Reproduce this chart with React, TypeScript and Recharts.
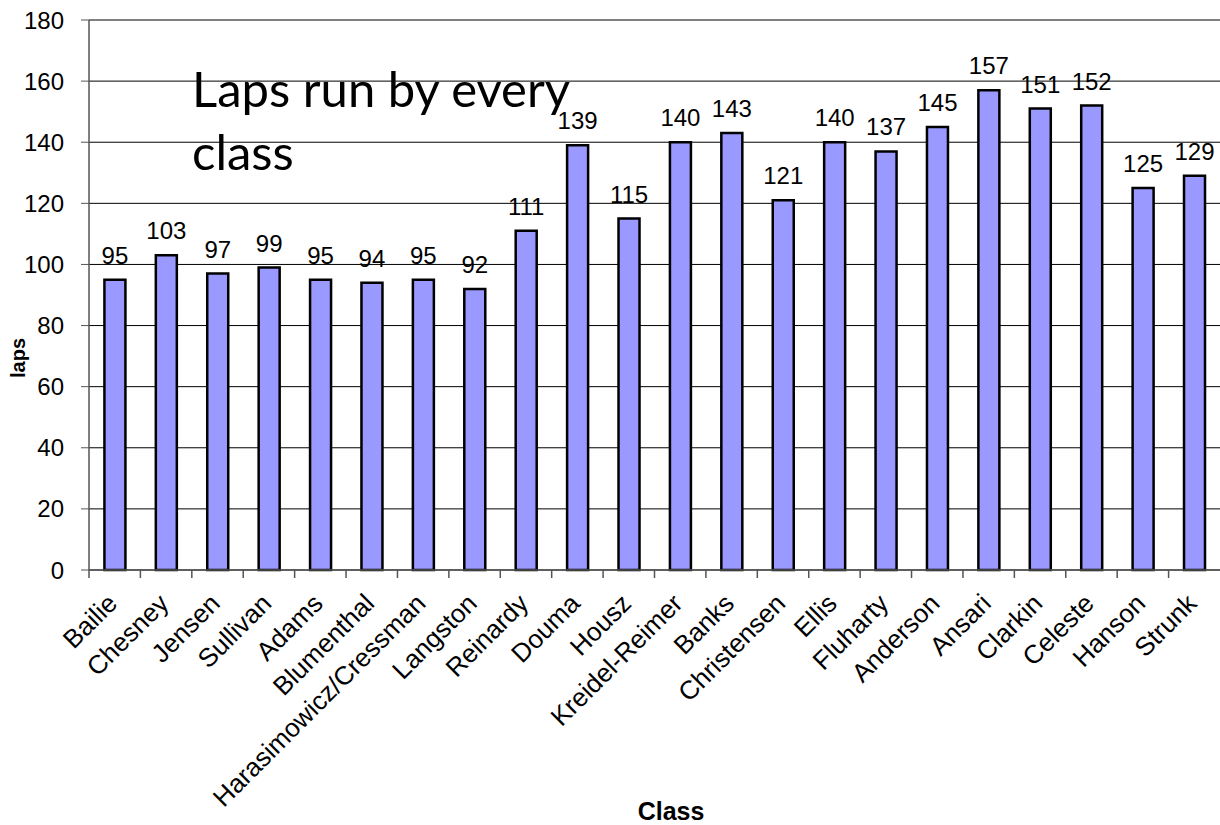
import { BarChart, Bar, XAxis, YAxis, CartesianGrid, LabelList, Label } from 'recharts';

const classes = [
  'Bailie', 'Chesney', 'Jensen', 'Sullivan', 'Adams', 'Blumenthal',
  'Harasimowicz/Cressman', 'Langston', 'Reinardy', 'Douma', 'Housz',
  'Kreidel-Reimer', 'Banks', 'Christensen', 'Ellis', 'Fluharty', 'Anderson',
  'Ansari', 'Clarkin', 'Celeste', 'Hanson', 'Strunk',
];
const laps = [95, 103, 97, 99, 95, 94, 95, 92, 111, 139, 115, 140, 143, 121, 140, 137, 145, 157, 151, 152, 125, 129];
const yTicks = [0, 20, 40, 60, 80, 100, 120, 140, 160, 180];

const data = classes.map((c, i) => ({ name: c, laps: laps[i] }));

const font = 'Arial, "Liberation Sans", sans-serif';

function ClassTick(props: any) {
  const { x, y, payload } = props;
  const half = payload?.offset ?? 25.7;
  const ax = x + 4;
  const ay = y + 27;
  return (
    <g>
      <line x1={x - half} x2={x - half} y1={y - 8} y2={y} stroke="#555" strokeWidth={1.5} />
      <text
        x={ax}
        y={ay}
        textAnchor="end"
        transform={`rotate(-45 ${ax} ${ay})`}
        fontSize={26}
        fontFamily={font}
        fill="#000"
      >
        {payload.value}
      </text>
    </g>
  );
}

export default function App() {
  return (
    <div style={{ position: 'fixed', left: 0, top: 0, width: 1220, height: 825, background: '#fff' }}>
      <BarChart
        width={1220}
        height={825}
        data={data}
        margin={{ top: 20, right: 0, left: 0, bottom: 0 }}
        barCategoryGap="30%"
      >
        <CartesianGrid vertical={false} stroke="#000" strokeWidth={1} />
        <XAxis
          dataKey="name"
          interval={0}
          height={255}
          tickLine={false}
          axisLine={{ stroke: '#555', strokeWidth: 1.5 }}
          tick={<ClassTick />}
        >
          <Label
            content={() => (
              <text x={671} y={820} textAnchor="middle" fontFamily={font} fontWeight="bold" fontSize={25} fill="#000">
                Class
              </text>
            )}
          />
        </XAxis>
        <YAxis
          domain={[0, 180]}
          ticks={yTicks}
          width={89}
          tickSize={8}
          tickLine={{ stroke: '#555' }}
          axisLine={{ stroke: '#555', strokeWidth: 1.5 }}
          tick={{ fontFamily: font, fontSize: 24, fill: '#000', dx: -15 }}
        >
          <Label
            content={() => (
              <text
                x={25}
                y={358}
                textAnchor="middle"
                transform="rotate(-90 25 358)"
                fontFamily={font}
                fontWeight="bold"
                fontSize={20}
                fill="#000"
              >
                laps
              </text>
            )}
          />
        </YAxis>
        <Bar dataKey="laps" fill="#9999FF" stroke="#000" strokeWidth={2.5} isAnimationActive={false}>
          <LabelList
            dataKey="laps"
            position="top"
            offset={16}
            style={{ fontFamily: font, fontSize: 24, fill: '#000' }}
          />
        </Bar>
      </BarChart>
      <div
        style={{
          position: 'absolute',
          left: 192,
          top: 57,
          width: 440,
          fontFamily: 'Lato, "Open Sans", sans-serif',
          fontSize: 49,
          lineHeight: '63px',
          color: '#000',
        }}
      >
        Laps run by every class
      </div>
    </div>
  );
}
